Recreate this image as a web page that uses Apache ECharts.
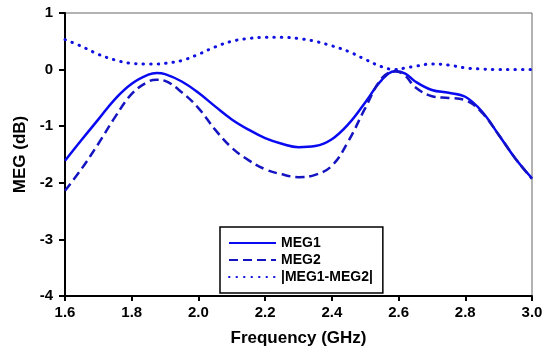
<!DOCTYPE html>
<html>
<head>
<meta charset="utf-8">
<script src="https://cdn.jsdelivr.net/npm/echarts@6/dist/echarts.min.js"></script>
<style>html,body{margin:0;padding:0;background:#fff;}#c{width:550px;height:356px;}</style>
</head>
<body>
<div id="c"></div>
<script>
const freq = [1.60,1.65,1.70,1.75,1.80,1.85,1.875,1.90,1.95,2.00,2.05,2.10,2.15,2.20,2.25,2.30,2.35,2.40,2.45,2.50,2.55,2.59,2.62,2.65,2.70,2.75,2.80,2.85,2.90,2.95,3.00];
const meg1 = [-1.61,-1.24,-0.88,-0.52,-0.25,-0.09,-0.06,-0.08,-0.21,-0.41,-0.65,-0.88,-1.06,-1.21,-1.31,-1.37,-1.35,-1.23,-0.96,-0.58,-0.18,-0.03,-0.07,-0.21,-0.36,-0.41,-0.48,-0.74,-1.15,-1.57,-1.92];
const meg2 = [-2.14,-1.75,-1.31,-0.84,-0.43,-0.21,-0.18,-0.20,-0.40,-0.68,-1.06,-1.38,-1.60,-1.76,-1.85,-1.90,-1.86,-1.70,-1.26,-0.68,-0.15,-0.03,-0.11,-0.31,-0.47,-0.50,-0.54,-0.76,-1.15,-1.57,-1.93];
const diff = [0.53,0.41,0.27,0.17,0.11,0.10,0.10,0.11,0.16,0.27,0.40,0.50,0.55,0.57,0.57,0.55,0.50,0.42,0.32,0.18,0.05,0.00,0.03,0.06,0.10,0.08,0.03,0.01,0.00,0.00,0.00];
const seriesNames = ['MEG1','MEG2','|MEG1-MEG2|'];
const xTicks = [1.6,1.8,2.0,2.2,2.4,2.6,2.8,3.0];
const yTicks = [-4,-3,-2,-1,0,1];

const pairs = v => freq.map((f,i)=>[f,v[i]]);
const font = 'Liberation Sans, Arial, sans-serif';
const chart = echarts.init(document.getElementById('c'));
chart.setOption({
  animation:false,
  grid:{left:65,right:18,top:13,bottom:60,show:true,borderColor:'#666',borderWidth:1,backgroundColor:'transparent'},
  xAxis:{type:'value',min:1.6,max:3.0,interval:0.2,
    name:'Frequency (GHz)',nameLocation:'middle',nameGap:34,
    nameTextStyle:{fontFamily:font,fontWeight:'bold',fontSize:17,color:'#000'},
    axisLine:{show:true,onZero:false,lineStyle:{color:'#000',width:2}},
    axisTick:{show:true,length:5,lineStyle:{color:'#000',width:2}},
    axisLabel:{fontFamily:font,fontWeight:'bold',fontSize:15,color:'#000',margin:9,
      formatter:v=>{const t=xTicks.find(x=>Math.abs(x-v)<1e-6);return t===undefined?'':t.toFixed(1);}},
    splitLine:{show:false}},
  yAxis:{type:'value',min:-4,max:1,interval:1,
    name:'MEG (dB)',nameLocation:'middle',nameGap:36,nameRotate:90,
    nameTextStyle:{fontFamily:font,fontWeight:'bold',fontSize:17,color:'#000'},
    axisLine:{show:true,onZero:false,lineStyle:{color:'#000',width:2}},
    axisTick:{show:true,length:6,lineStyle:{color:'#000',width:2}},
    axisLabel:{fontFamily:font,fontWeight:'bold',fontSize:15,color:'#000',margin:12,
      formatter:v=>{const t=yTicks.find(y=>Math.abs(y-v)<1e-6);return t===undefined?'':String(t);}},
    splitLine:{show:false}},
  legend:{left:220,top:227,orient:'vertical',itemWidth:47,itemHeight:14,itemGap:3,
    padding:[9,10,9,8],borderColor:'#000',borderWidth:1.5,backgroundColor:'#fff',
    itemStyle:{opacity:0},
    textStyle:{fontFamily:font,fontWeight:'bold',fontSize:14,color:'#000'},
    data:seriesNames},
  series:[
    {name:seriesNames[0],type:'line',data:pairs(meg1),smooth:0.4,showSymbol:false,symbol:'none',
      lineStyle:{color:'#0a0af0',width:2.5},itemStyle:{color:'#0a0af0'}},
    {name:seriesNames[1],type:'line',data:pairs(meg2),smooth:0.4,showSymbol:false,symbol:'none',
      lineStyle:{color:'#1414c0',width:2.5,type:[9,5]},itemStyle:{color:'#1414c0'}},
    {name:seriesNames[2],type:'line',data:pairs(diff),smooth:0.4,showSymbol:false,symbol:'none',
      lineStyle:{color:'#1010e0',width:3,type:[0.5,7],cap:'round'},itemStyle:{color:'#1010e0'}}
  ]
});
</script>
</body>
</html>
